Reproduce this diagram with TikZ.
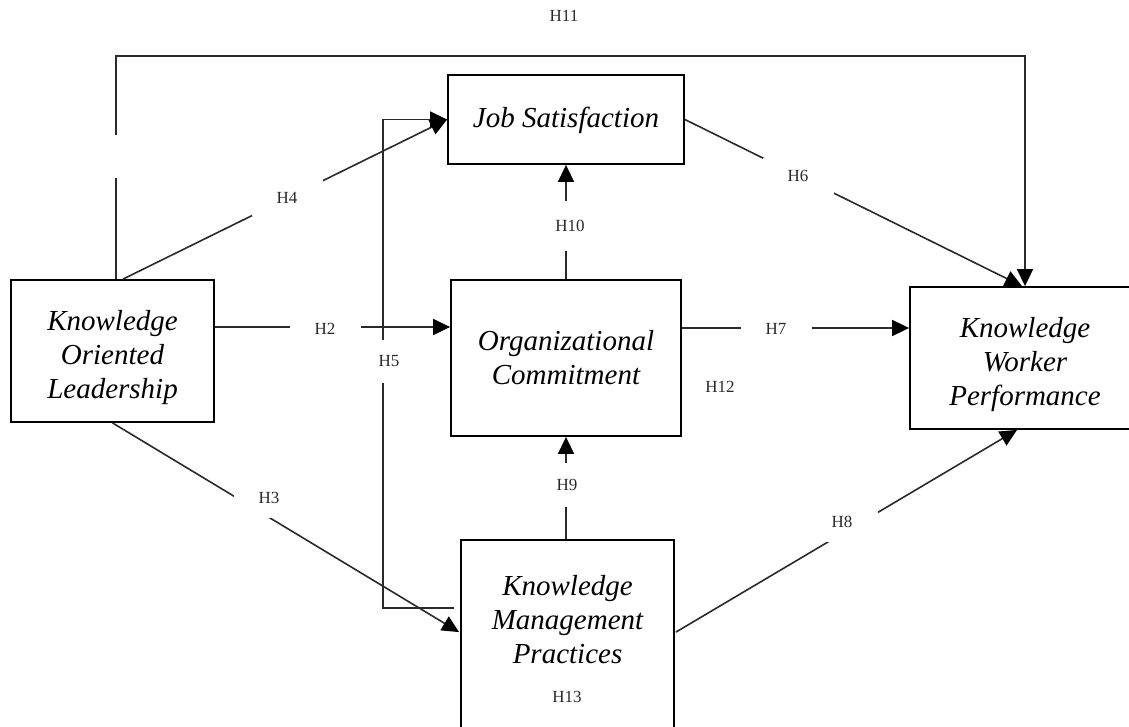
\documentclass[tikz,border=0pt]{standalone}
\usepackage{fontspec}
\setmainfont{Liberation Serif}
\usetikzlibrary{arrows.meta,calc}
\definecolor{ln}{HTML}{2A2A2A}
\begin{document}
\begin{tikzpicture}[x=1pt,y=-1pt,
  box/.style={draw=black,line width=1.8pt,rectangle,inner sep=0pt},
  ttl/.style={font=\fontsize{29}{34}\selectfont\itshape,align=center,inner sep=0pt},
  lab/.style={font=\fontsize{17}{20}\selectfont,text=ln,inner sep=0pt},
  hgap/.style={lab,fill=white,minimum width=71pt,minimum height=#1},
  conn/.style={draw=ln,line width=1.6pt},
  arr/.style={conn,-{Triangle[length=17pt,width=16pt,color=black]}}]
\useasboundingbox (0,0) rectangle (1129,726);
\fill[white] (0,0) rectangle (1129,726);
% boxes
\node[box,minimum width=203pt,minimum height=142pt] (kol) at (112.5,351) {};
\node[box,minimum width=236pt,minimum height=89pt] (js) at (566,119.5) {};
\node[box,minimum width=230pt,minimum height=156pt] (oc) at (566,358) {};
\node[box,minimum width=230pt,minimum height=142pt] (kwp) at (1025,358) {};
\node[box,minimum width=213pt,minimum height=200pt] (kmp) at (567.5,640) {};
% box texts
\node[ttl] (kolt) at (112.5,358) {Knowledge\\Oriented\\Leadership};
\node[ttl] (jst) at (566,120) {Job Satisfaction};
\node[ttl] (oct) at (566,358) {Organizational\\Commitment};
\node[ttl] (kwpt) at (1025,365) {Knowledge\\Worker\\Performance};
\node[ttl] (kmpt) at (567.5,620) {Knowledge\\Management\\Practices};
% connectors
\draw[arr] ($(kol.north)+(3.5,0)$) -- ++(0,-223) -| (kwp.north);
\draw[arr] ($(kol.north)+(10.5,0)$) -- (js.west);
\coordinate (h2s) at ($(kol.east)+(0,-24)$);
\draw[arr] (h2s) -- (h2s -| oc.west);
\draw[arr] (kol.south) -- ($(kmp.north west)+(-1,93)$);
\coordinate (h5s) at ($(kmp.north west)+(-6,69)$);
\draw[arr] (h5s) -- ++(-71,0) |- (js.west);
\draw[arr] (js.east) -- ($(kwp.north)+(-3,0)$);
\draw[arr] (oc.north) -- (js.south);
\draw[arr] (kmp.north -| oc.south) -- (oc.south);
\coordinate (h7s) at ($(oc.east)+(0,-30)$);
\draw[arr] (h7s) -- (h7s -| kwp.west);
\draw[arr] ($(kmp.north east)+(1,93)$) -- ($(kwp.south)+(-8,0)$);
% labels covering the connectors
\node[hgap=30pt] (lh2) at (325,329) {H2};
\node[hgap=30pt] (lh7) at (776,329) {H7};
\node[hgap=43pt,minimum width=40pt] (lh5) at (389,361) {H5};
\node[hgap=50pt,minimum width=40pt] (lh10) at (570,226) {H10};
\node[hgap=44pt,minimum width=40pt] (lh9) at (567,485) {H9};
\node[hgap=36pt] (lh4) at (287,198) {H4};
\node[hgap=36pt] (lh6) at (798,176) {H6};
\node[hgap=40pt] (lh8) at (842,522) {H8};
\node[hgap=40pt] (lh3) at (269,498) {H3};
\node[hgap=43pt,minimum width=40pt] (lh1) at (116,156) {};
\begin{scope}
  \clip (100,163) rectangle (130,168);
  \node[lab,text=gray!55] (lh1t) at (113,157) {H1};
\end{scope}
\node[lab] (lh11) at (564,16) {H11};
\node[lab] (lh12) at (720,387) {H12};
\node[lab] (lh13) at (567,697) {H13};
\end{tikzpicture}
\end{document}
